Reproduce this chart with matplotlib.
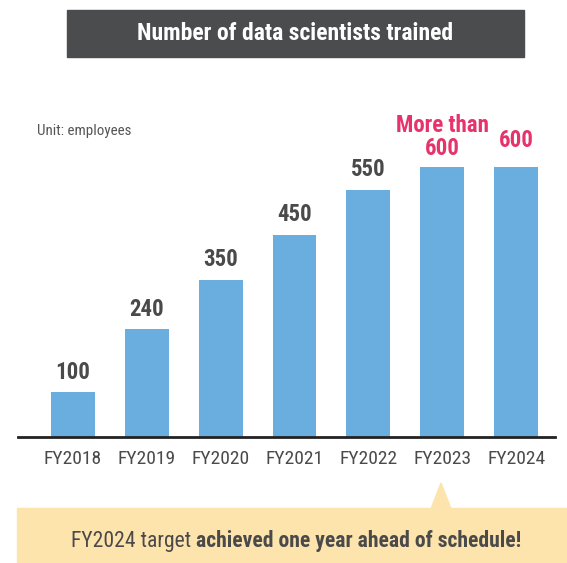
import matplotlib
matplotlib.use("Agg")
import matplotlib.pyplot as plt
from matplotlib.patches import Rectangle, Polygon

# veriler
years = ["FY2018", "FY2019", "FY2020", "FY2021", "FY2022", "FY2023", "FY2024"]
trained = [100, 240, 350, 450, 550, 600, 600]
value_labels = ["100", "240", "350", "450", "550", "More than\n600", "600"]
label_colors = ["#4a4a4a"] * 5 + ["#e6336b", "#e6336b"]
label_offsets = [6, 6, 6, 6, 6, 5, 11]  # bar üstünden uzaklık (pt)

title = "Number of data scientists trained"
unit_text = "Unit: employees"
note_regular = "FY2024 target "
note_bold = "achieved one year ahead of schedule!"

plt.rcParams["font.family"] = ["Roboto Condensed", "DejaVu Sans"]

W, H = 567, 563
fig = plt.figure(figsize=(W / 100, H / 100), dpi=100)

# eksen yerleşimi (piksel -> figür oranı)
ax_left, ax_right = 18, 555
ax_base, ax_top = 437, 100
ax = fig.add_axes([ax_left / W, (H - ax_base) / H, (ax_right - ax_left) / W, (ax_base - ax_top) / H])

x = list(range(len(years)))
ax.bar(x, trained, width=0.595, color="#6aaddf", zorder=2)
ax.set_xlim(-0.743, 6.527)
ax.set_ylim(0, (ax_base - ax_top) / 0.45)

for xi, v, lab, c, off in zip(x, trained, value_labels, label_colors, label_offsets):
    ax.annotate(lab, (xi, v), xytext=(0, off), textcoords="offset points",
                ha="center", va="bottom", fontsize=16.5, fontweight="bold",
                color=c, linespacing=1.0)

for s in ["top", "right", "left"]:
    ax.spines[s].set_visible(False)
ax.spines["bottom"].set_linewidth(2)
ax.spines["bottom"].set_color("#222222")
ax.set_yticks([])
ax.set_xticks(x)
ax.set_xticklabels(years, fontsize=14, color="#4a4a4a")
ax.tick_params(axis="x", length=0, pad=9)

fig.text(37 / W, 1 - 131 / H, unit_text, fontsize=10.8, color="#555555", va="center", ha="left")

# başlık kutusu
fig.patches.append(Rectangle((67 / W, 1 - 57 / H), (524 - 67) / W, 47 / H,
                             transform=fig.transFigure, color="#4b4c4e", zorder=0))
fig.text((67 + 524) / 2 / W, 1 - 33.5 / H, title, color="white", fontsize=17,
         fontweight="bold", ha="center", va="center")

# alt not kutusu + ok
fig.patches.append(Rectangle((17 / W, 0), (W - 17) / W, (H - 508) / H,
                             transform=fig.transFigure, color="#fde3ac", zorder=0))
fig.patches.append(Polygon([(431 / W, 1 - 509 / H), (441 / W, 1 - 483 / H), (451 / W, 1 - 509 / H)],
                           transform=fig.transFigure, color="#fde3ac", zorder=0))

r = fig.canvas.get_renderer()
t1 = fig.text(0, 1 - 541 / H, note_regular, fontsize=15.6, color="#4a4a4a", va="center", ha="left")
t2 = fig.text(0, 1 - 541 / H, note_bold, fontsize=15.6, color="#4a4a4a", va="center",
              ha="left", fontweight="bold")
w1 = t1.get_window_extent(r).width
w2 = t2.get_window_extent(r).width
start = (69 + 523) / 2 - (w1 + w2) / 2
t1.set_x(start / W)
t2.set_x((start + w1) / W)

fig.savefig("out.png", dpi=100)
